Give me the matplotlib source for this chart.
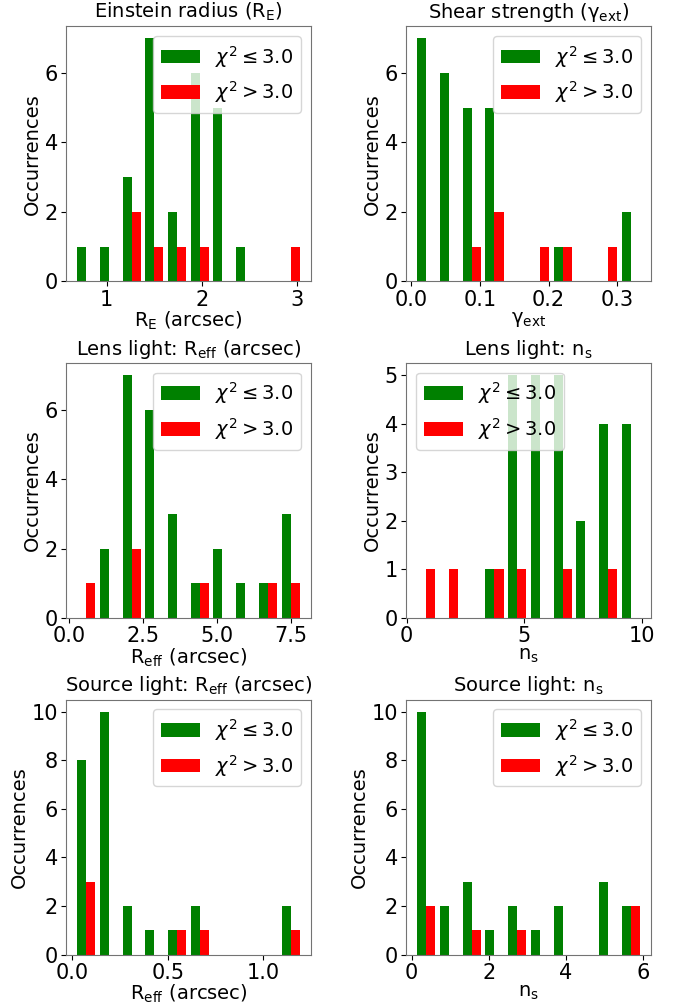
import numpy as np
import matplotlib
matplotlib.use("Agg")
import matplotlib.pyplot as plt

# histogram ranges (lo, hi) of the 10 bins
range_einstein = (0.668, 3.05)
range_shear = (0.0054, 0.336)
range_lens_reff = (0.2, 7.86)
range_lens_ns = (0.36, 10.02)
range_src_reff = (0.014, 1.202)
range_src_ns = (0.088, 5.97)

# counts per bin: good fits (chi2 <= 3) and bad fits (chi2 > 3)
good_einstein = [1, 1, 3, 7, 2, 6, 5, 1, 0, 0]
bad_einstein = [0, 0, 2, 1, 1, 1, 0, 0, 0, 1]
good_shear = [7, 6, 5, 5, 0, 0, 1, 0, 0, 2]
bad_shear = [0, 0, 1, 2, 0, 1, 1, 0, 1, 0]
good_lens_reff = [0, 2, 7, 6, 3, 1, 2, 1, 1, 3]
bad_lens_reff = [1, 0, 2, 0, 0, 1, 0, 0, 1, 1]
good_lens_ns = [0, 0, 0, 1, 5, 5, 5, 2, 4, 4]
bad_lens_ns = [1, 1, 0, 1, 1, 0, 1, 0, 1, 0]
good_src_reff = [8, 10, 2, 1, 1, 2, 0, 0, 0, 2]
bad_src_reff = [3, 0, 0, 0, 1, 1, 0, 0, 0, 1]
good_src_ns = [10, 2, 3, 1, 2, 1, 2, 0, 3, 2]
bad_src_ns = [2, 0, 1, 0, 1, 0, 0, 0, 0, 2]

# x tick values of each panel
xticks_einstein = [1, 2, 3]
xticks_shear = [0.0, 0.1, 0.2, 0.3]
xticks_lens_reff = [0.0, 2.5, 5.0, 7.5]
xticks_lens_ns = [0, 5, 10]
xticks_src_reff = [0.0, 0.5, 1.0]
xticks_src_ns = [0, 2, 4, 6]

titles = [r'Einstein radius (R$_{\rm E}$)',
          r'Shear strength ($\rm \gamma_{ext}$)',
          r'Lens light: R$_{\rm eff}$ (arcsec)',
          r'Lens light: n$_{\rm s}$',
          r'Source light: R$_{\rm eff}$ (arcsec)',
          r'Source light: n$_{\rm s}$']
xlabels = [r'R$_{\rm E}$ (arcsec)',
           r'$\rm \gamma_{ext}$',
           r'R$_{\rm eff}$ (arcsec)',
           r'n$_{\rm s}$',
           r'R$_{\rm eff}$ (arcsec)',
           r'n$_{\rm s}$']
legend_locs = ['upper right', 'upper right', 'upper right',
               'upper left', 'upper right', 'upper right']

panels = [
    (range_einstein, good_einstein, bad_einstein, xticks_einstein),
    (range_shear, good_shear, bad_shear, xticks_shear),
    (range_lens_reff, good_lens_reff, bad_lens_reff, xticks_lens_reff),
    (range_lens_ns, good_lens_ns, bad_lens_ns, xticks_lens_ns),
    (range_src_reff, good_src_reff, bad_src_reff, xticks_src_reff),
    (range_src_ns, good_src_ns, bad_src_ns, xticks_src_ns),
]

plt.rcParams['font.size'] = 14
plt.rcParams['axes.edgecolor'] = '0.45'

fig, axes = plt.subplots(3, 2, figsize=(6.78, 10.08), dpi=100)
fig.subplots_adjust(left=0.0975, right=0.96, top=0.974, bottom=0.053,
                    wspace=0.39, hspace=0.32)

for i, ax in enumerate(axes.flat):
    rng, good, bad, xt = panels[i]
    edges = np.linspace(rng[0], rng[1], 11)
    centers = 0.5 * (edges[:-1] + edges[1:])
    ax.hist([centers, centers], bins=edges, weights=[good, bad],
            color=['green', 'red'],
            label=[r'$\chi^2 \leq 3.0$', r'$\chi^2 > 3.0$'])
    ax.set_xticks(xt)
    ax.set_title(titles[i], fontsize=14)
    ax.set_xlabel(xlabels[i], labelpad=0)
    ax.set_ylabel('Occurrences', labelpad=2)
    ax.tick_params(labelsize=15, pad=2.5)
    ax.legend(loc=legend_locs[i], fontsize=14)

fig.savefig('out.png', dpi=100)
